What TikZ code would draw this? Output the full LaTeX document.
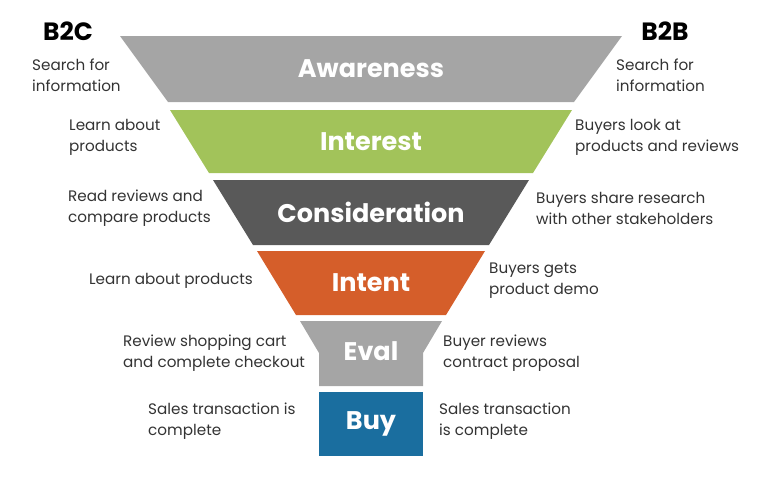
\documentclass[tikz,border=0pt]{standalone}
\usepackage{fontspec}
\setmainfont{Poppins}
\usetikzlibrary{positioning}

\definecolor{awgray}{HTML}{A5A5A5}
\definecolor{intgreen}{HTML}{A2C35A}
\definecolor{condark}{HTML}{595959}
\definecolor{intorange}{HTML}{D55E2A}
\definecolor{buyblue}{HTML}{1A6E9F}
\definecolor{txtgray}{HTML}{333333}

\tikzset{
  stage/.style={text=white, font=\bfseries\fontsize{25.5}{28}\selectfont},
  side/.style={text=txtgray, font=\fontsize{15.2}{21}\selectfont, align=left, inner sep=0pt},
  head/.style={font=\bfseries\fontsize{25}{28}\selectfont, inner sep=0pt}
}

\begin{document}
\begin{tikzpicture}[x=1pt,y=-1pt]
\useasboundingbox (0,0) rectangle (768,488);
% funnel layers: top, bottom, half widths, colour, name, label
\foreach \t/\b/\wt/\wb/\c/\n/\l in {36/102/251/203/awgray/aw/Awareness,
    110/173/201/162/intgreen/in/Interest,
    180/245/158/118/condark/co/Consideration,
    251/315/114/75/intorange/it/Intent}{
  \fill[\c] (371-\wt,\t) -- (371+\wt,\t) -- (371+\wb,\b) -- (371-\wb,\b) -- cycle;
  \node[stage] (\n) at (371,{(\t+\b)/2}) {\l};
}

% eval and buy
\fill[awgray] (300,321) -- (442,321) -- (423,353) -- (423,386) -- (319,386) -- (319,353) -- cycle;
\node[stage] (ev) at (371,351) {Eval};
\fill[buyblue] (319,392) rectangle (423,456);
\node[stage] (buy) at (371,424) {Buy};

\node[head] (b2c) at (68,31) {B2C};
\node[head] (b2b) at (665,31) {B2B};

% B2C side
\node[side, anchor=west] (l1) at (32,75) {Search for\\information};
\node[side, anchor=west] (l2) at (69,137) {Learn about\\products};
\node[side, anchor=west] (l3) at (68,208) {Read reviews and\\compare products};
\node[side, anchor=east] (l4) at (253,281) {Learn about products};
\node[side, anchor=west] (l5) at (123,353) {Review shopping cart\\and complete checkout};
\node[side, anchor=west] (l6) at (148,421) {Sales transaction is\\complete};

% B2B side
\node[side, anchor=west] (r1) at (616,75) {Search for\\information};
\node[side, anchor=west] (r2) at (575,137) {Buyers look at\\products and reviews};
\node[side, anchor=west] (r3) at (536,208) {Buyers share research\\with other stakeholders};
\node[side, anchor=west] (r4) at (489,281) {Buyers gets\\product demo};
\node[side, anchor=west] (r5) at (443,353) {Buyer reviews\\contract proposal};
\node[side, anchor=west] (r6) at (439,421) {Sales transaction\\is complete};
\end{tikzpicture}
\end{document}
